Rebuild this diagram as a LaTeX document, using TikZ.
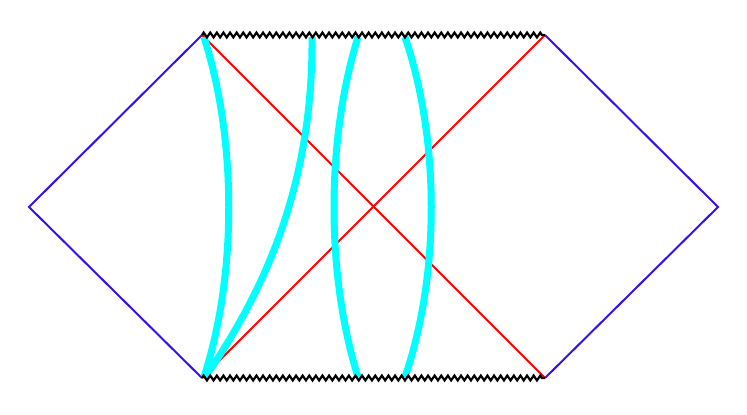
\documentclass[tikz,border=0pt]{standalone}
\usetikzlibrary{decorations.pathmorphing}
\definecolor{edgeblue}{RGB}{51,17,238}
\definecolor{aqua}{RGB}{0,255,255}
\tikzset{
  horizon/.style={draw=red, line width=2pt},
  boundary/.style={draw=edgeblue, line width=2pt},
  worldline/.style={draw=aqua, line width=7pt},
  singularity/.style={draw=black, line width=2.2pt, decorate,
    decoration={zigzag, segment length=6.6pt, amplitude=2.4pt}}
}
\begin{document}
\begin{tikzpicture}[x=1pt,y=1pt]
\useasboundingbox (0,0) rectangle (747,415);
\coordinate (L) at (29,208);
\coordinate (TL) at (202,380);
\coordinate (TR) at (545,380);
\coordinate (R) at (718,208);
\coordinate (BL) at (202,37);
\coordinate (BR) at (545,37);
% boundaries
\draw[boundary] (BL) -- (L) -- (TL);
\draw[boundary] (TR) -- (R) -- (BR);
% horizons
\draw[horizon] (TL) -- (BR);
\draw[horizon] (BL) -- (TR);
% world lines
\coordinate (c1t) at (204,378);
\coordinate (c1b) at (204,38);
\coordinate (c2t) at (312,378);
\coordinate (c2b) at (205,38);
\coordinate (c3t) at (358,378);
\coordinate (c3b) at (358,38);
\coordinate (c4t) at (405,378);
\coordinate (c4b) at (405,38);
\draw[worldline] (c1t) .. controls (237,275) and (237,140) .. (c1b);
\draw[worldline] (c2t) .. controls (313,255) and (280,145) .. (c2b);
\draw[worldline] (c3t) .. controls (326,275) and (326,140) .. (c3b);
\draw[worldline] (c4t) .. controls (440,275) and (440,140) .. (c4b);
% singularities
\draw[singularity] (TL) -- (TR);
\draw[singularity] (BL) -- (BR);
\end{tikzpicture}
\end{document}
